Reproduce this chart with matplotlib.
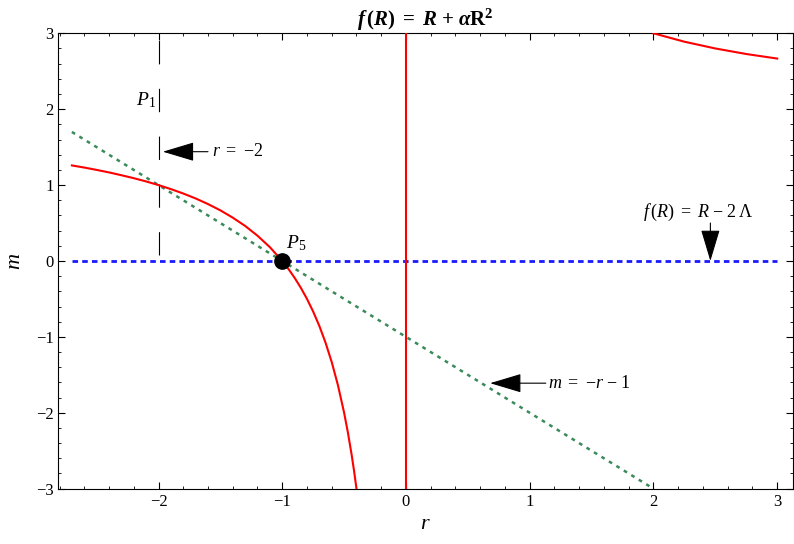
import numpy as np
import matplotlib.pyplot as plt
from matplotlib.ticker import MultipleLocator

plt.rcParams['font.family'] = ['Liberation Serif', 'DejaVu Serif']
plt.rcParams['mathtext.fontset'] = 'custom'
plt.rcParams['mathtext.rm'] = 'Liberation Serif'
plt.rcParams['mathtext.it'] = 'Liberation Serif:italic'
plt.rcParams['mathtext.bf'] = 'Liberation Serif:bold'
plt.rcParams['mathtext.bfit'] = 'Liberation Serif:italic:bold'

# m(r) curve for f(R) = R + alpha R^2
r_left = [-2.7, -2.6, -2.5, -2.4, -2.3, -2.2, -2.1, -2.0, -1.9, -1.8, -1.7,
          -1.6, -1.5, -1.4, -1.3, -1.2, -1.1, -1.0, -0.95, -0.9, -0.85, -0.8,
          -0.75, -0.7, -0.65, -0.6, -0.55, -0.5, -0.47, -0.44, -0.42, -0.4]
m_left = [1.259, 1.231, 1.2, 1.167, 1.130, 1.091, 1.048, 1.0, 0.947, 0.889,
          0.824, 0.75, 0.667, 0.571, 0.462, 0.333, 0.182, 0.0, -0.105, -0.222,
          -0.353, -0.5, -0.667, -0.857, -1.077, -1.333, -1.636, -2.0, -2.255,
          -2.545, -2.762, -3.0]
r_right = [2.0, 2.25, 2.5, 2.75, 3.0]
m_right = [3.0, 2.889, 2.8, 2.727, 2.667]
r_asym = [0.0, 0.0]
m_asym = [-3.0, 3.0]

# straight lines
r_green = [-2.7, 2.0]
m_green = [1.7, -3.0]
r_blue = [-2.7, 3.0]
m_blue = [0.0, 0.0]
r_p1 = [-2.0, -2.0]
m_p1 = [0.08, 3.0]
p5 = (-1.0, 0.0)

fig = plt.figure(figsize=(7.94, 5.44), dpi=100)
ax = fig.add_axes([0.0734, 0.1017, 0.9257, 0.8371])

ax.plot(r_left, m_left, color='#ff0000', lw=1.5, zorder=3)
ax.plot(r_right, m_right, color='#ff0000', lw=1.5, zorder=3)
ax.plot(r_asym, m_asym, color='#ff0000', lw=1.5, zorder=3)
ax.plot(r_blue, m_blue, color='#1a1aff', lw=2.0, dashes=(2.0, 1.5), zorder=2)
ax.plot(r_green, m_green, color='#3a8a5a', lw=1.8, dashes=(1.5, 2.0), zorder=2)
ax.plot(r_p1, m_p1, color='black', lw=0.8, dashes=(21, 22), zorder=2)
ax.plot(*p5, 'o', color='black', ms=11, zorder=5)

hd = dict(arrowstyle='-|>,head_length=1.0,head_width=0.3', color='black',
          lw=0.8, mutation_scale=20, shrinkA=0, shrinkB=0)
ax.annotate('', xy=(-1.965, 1.44), xytext=(-1.60, 1.44), arrowprops=hd)
ax.text(-1.57, 1.44, r'$r\ =\ $−2', fontsize=13, ha='left', va='center')

ax.annotate('', xy=(0.68, -1.61), xytext=(1.13, -1.61), arrowprops=hd)
ax.text(1.15, -1.61, r'$m\ =\ $−$r\ $−$\ $1', fontsize=13, ha='left', va='center')

ax.annotate('', xy=(2.46, 0.0), xytext=(2.46, 0.50), arrowprops=hd)
ax.text(2.36, 0.64, r'$f\,$($R$)$\ =\ R\ $−$\ $2$\,$Λ', fontsize=13,
        ha='center', va='center')

ax.text(-2.02, 2.12, r'$P_1$', fontsize=14, ha='right', va='center')
ax.text(-0.97, 0.1, r'$P_5$', fontsize=14, ha='left', va='bottom')

ax.set_xlim(-2.81, 3.13)
ax.set_ylim(-3, 3)
ax.xaxis.set_major_locator(MultipleLocator(1))
ax.xaxis.set_minor_locator(MultipleLocator(0.2))
ax.yaxis.set_major_locator(MultipleLocator(1))
ax.yaxis.set_minor_locator(MultipleLocator(0.2))
ax.tick_params(which='both', direction='in', top=True, right=True, labelsize=12)
ax.tick_params(which='major', length=5, width=0.8)
ax.tick_params(which='minor', length=2.5, width=0.6)
for s in ax.spines.values():
    s.set_linewidth(0.8)

ax.set_xlabel(r'$r$', fontsize=16, labelpad=4)
ax.set_ylabel(r'$m$', fontsize=16, labelpad=8)
ax.set_title(r'$\mathbfit{f}\,\mathbf{(}\mathbfit{R}\mathbf{)}\ \mathbf{=}\ \mathbfit{R}\ \mathbf{+}\ \mathbfit{\alpha}\mathbf{R}^{\mathbf{2}}$',
             fontsize=15, pad=5)

fig.savefig('out.png', dpi=100)
